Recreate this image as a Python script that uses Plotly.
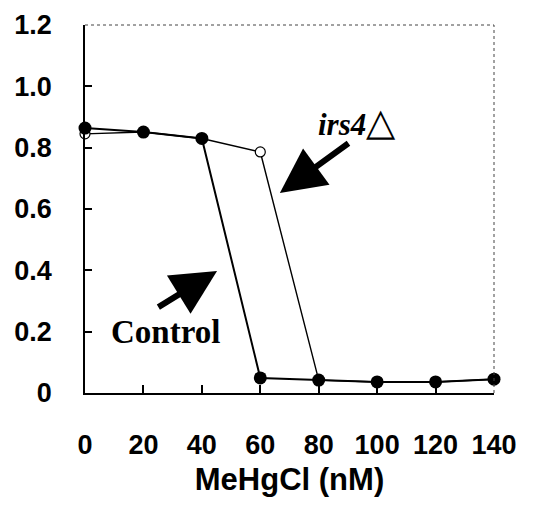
import plotly.graph_objects as go

conc = [0, 20, 40, 60, 80, 100, 120, 140]
control = [0.864, 0.851, 0.830, 0.049, 0.042, 0.036, 0.036, 0.045]
irs4 = [0.845, 0.851, 0.830, 0.786, 0.042, 0.036, 0.036, 0.045]
y_ticks = [0, 0.2, 0.4, 0.6, 0.8, 1.0, 1.2]
y_tick_text = ["0", "0.2", "0.4", "0.6", "0.8", "1.0", "1.2"]
x_ticks = [0, 20, 40, 60, 80, 100, 120, 140]

fig = go.Figure()
fig.add_trace(go.Scatter(
    x=conc, y=irs4, mode="lines+markers",
    line=dict(color="black", width=1.4),
    marker=dict(symbol="circle", size=10, color="white", line=dict(color="black", width=1.2)),
    cliponaxis=False, showlegend=False))
fig.add_trace(go.Scatter(
    x=conc, y=control, mode="lines+markers",
    line=dict(color="black", width=2),
    marker=dict(symbol="circle", size=13, color="black"),
    cliponaxis=False, showlegend=False))

tick_font = dict(family="Liberation Sans, Arial, sans-serif", size=27, color="black", weight="bold")

fig.update_layout(
    width=544, height=510,
    margin=dict(l=85, r=50, t=25, b=117),
    paper_bgcolor="white", plot_bgcolor="white",
    xaxis=dict(range=[0, 140], tickvals=x_ticks, ticks="inside", ticklen=8, tickwidth=1.5,
               tickcolor="black", showline=True, linecolor="black", linewidth=1.5, automargin=False,
               showgrid=False, zeroline=False, tickfont=tick_font, ticklabelstandoff=27,
               title=dict(text="MeHgCl (nM)", font=dict(family="Liberation Sans, Arial, sans-serif", size=31, color="black", weight="bold"), standoff=9)),
    yaxis=dict(range=[0, 1.2], tickvals=y_ticks, ticktext=y_tick_text, ticks="inside", ticklen=7,
               tickwidth=1.5, tickcolor="black", showline=True, linecolor="black", linewidth=1.5, automargin=False,
               showgrid=False, zeroline=False, tickfont=tick_font, ticklabelstandoff=26),
)

# dotted top/right borders
fig.add_shape(type="line", xref="paper", yref="paper", x0=0, x1=1, y0=1, y1=1,
              line=dict(color="#444444", width=1, dash="dot"))
fig.add_shape(type="line", xref="paper", yref="paper", x0=1, x1=1, y0=0, y1=1,
              line=dict(color="#444444", width=1, dash="dot"))

fig.add_annotation(x=66.7, y=0.652, ax=90.7, ay=0.818, xref="x", yref="y", axref="x", ayref="y",
                   showarrow=True, arrowhead=2, arrowsize=1.5, arrowwidth=6, arrowcolor="black", text="")
fig.add_annotation(x=45.2, y=0.398, ax=24.6, ay=0.277, xref="x", yref="y", axref="x", ayref="y",
                   showarrow=True, arrowhead=2, arrowsize=1.5, arrowwidth=6, arrowcolor="black", text="")
fig.add_annotation(x=93.1, y=0.884, xref="x", yref="y", showarrow=False,
                   text="<b><i>irs4</i></b><span style=\"font-size:38px\">\u25b3</span>",
                   font=dict(family="Liberation Serif, Times New Roman, serif", size=31, color="black"))
fig.add_annotation(x=27.4, y=0.199, xref="x", yref="y", showarrow=False,
                   text="<b>Control</b>",
                   font=dict(family="Liberation Serif, Times New Roman, serif", size=33, color="black"))

fig.write_html("out.html")
